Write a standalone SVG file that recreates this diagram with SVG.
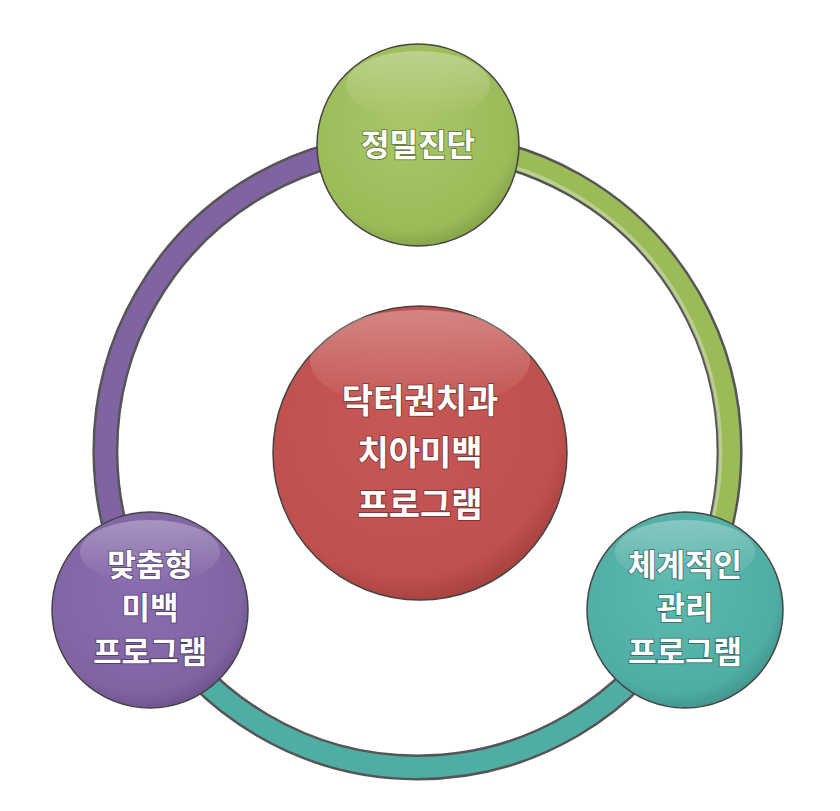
<svg xmlns="http://www.w3.org/2000/svg" width="840" height="811" viewBox="0 0 840 811">
<defs>
<radialGradient id="gG" cx="0.45" cy="0.4" r="0.65"><stop offset="0" stop-color="#a9c767"/><stop offset="0.8" stop-color="#9bbb59"/><stop offset="1" stop-color="#7d9a42"/></radialGradient>
<radialGradient id="gR" cx="0.45" cy="0.4" r="0.65"><stop offset="0" stop-color="#c65855"/><stop offset="0.8" stop-color="#c0504d"/><stop offset="1" stop-color="#9c3c3a"/></radialGradient>
<radialGradient id="gP" cx="0.45" cy="0.4" r="0.65"><stop offset="0" stop-color="#8a6db0"/><stop offset="0.8" stop-color="#8064a2"/><stop offset="1" stop-color="#654c85"/></radialGradient>
<radialGradient id="gT" cx="0.45" cy="0.4" r="0.65"><stop offset="0" stop-color="#5cb9ae"/><stop offset="0.8" stop-color="#4fada3"/><stop offset="1" stop-color="#3b8c84"/></radialGradient>
<linearGradient id="hl" x1="0" y1="0" x2="0" y2="1"><stop offset="0" stop-color="#fff" stop-opacity="0.3"/><stop offset="1" stop-color="#fff" stop-opacity="0"/></linearGradient>
</defs>
<style>
.ro{fill:none;stroke:#555;stroke-width:26}
.ri{fill:none;stroke-width:21}
.c{stroke:#444;stroke-width:1.5}
.t{font-family:"Noto Sans CJK KR","Noto Sans",sans-serif;font-weight:bold;fill:#fff;text-anchor:middle;font-size:31px;paint-order:stroke;stroke:rgba(0,0,0,0.35);stroke-width:2px}
</style>
<rect width="840" height="811" fill="#fff"/>
<g id="connectors">
<path class="ro" d="M418 145 A306 306 0 0 1 685 610"/>
<path class="ro" d="M685 610 A306 306 0 0 1 150 610"/>
<path class="ro" d="M150 610 A306 306 0 0 1 418 145"/>
<path class="ri" stroke="#9bbb59" d="M418 145 A306 306 0 0 1 685 610"/>
<path class="ri" stroke="#4fada3" d="M685 610 A306 306 0 0 1 150 610"/>
<path class="ri" stroke="#8064a2" d="M150 610 A306 306 0 0 1 418 145"/>
<path fill="none" stroke="#fff" stroke-opacity="0.3" stroke-width="4" d="M418 153 A298 298 0 0 1 678 604"/>
</g>
<g id="center">
<circle class="c" cx="420" cy="453" r="147" fill="url(#gR)"/>
<ellipse cx="420" cy="360" rx="110" ry="50" fill="url(#hl)"/>
<text class="t" x="420" y="413" style="font-size:34px">닥터권치과</text>
<text class="t" x="420" y="465" style="font-size:34px">치아미백</text>
<text class="t" x="420" y="517" style="font-size:34px">프로그램</text>
</g>
<g id="top">
<circle class="c" cx="418" cy="145" r="101" fill="url(#gG)"/>
<ellipse cx="418" cy="85" rx="72" ry="34" fill="url(#hl)"/>
<text class="t" x="418" y="156">정밀진단</text>
</g>
<g id="left">
<circle class="c" cx="150" cy="610" r="98" fill="url(#gP)"/>
<ellipse cx="150" cy="552" rx="70" ry="32" fill="url(#hl)"/>
<text class="t" x="150" y="576">맞춤형</text>
<text class="t" x="150" y="619">미백</text>
<text class="t" x="150" y="663">프로그램</text>
</g>
<g id="right">
<circle class="c" cx="685" cy="610" r="98" fill="url(#gT)"/>
<ellipse cx="685" cy="552" rx="70" ry="32" fill="url(#hl)"/>
<text class="t" x="685" y="576">체계적인</text>
<text class="t" x="685" y="619">관리</text>
<text class="t" x="685" y="663">프로그램</text>
</g>
</svg>
